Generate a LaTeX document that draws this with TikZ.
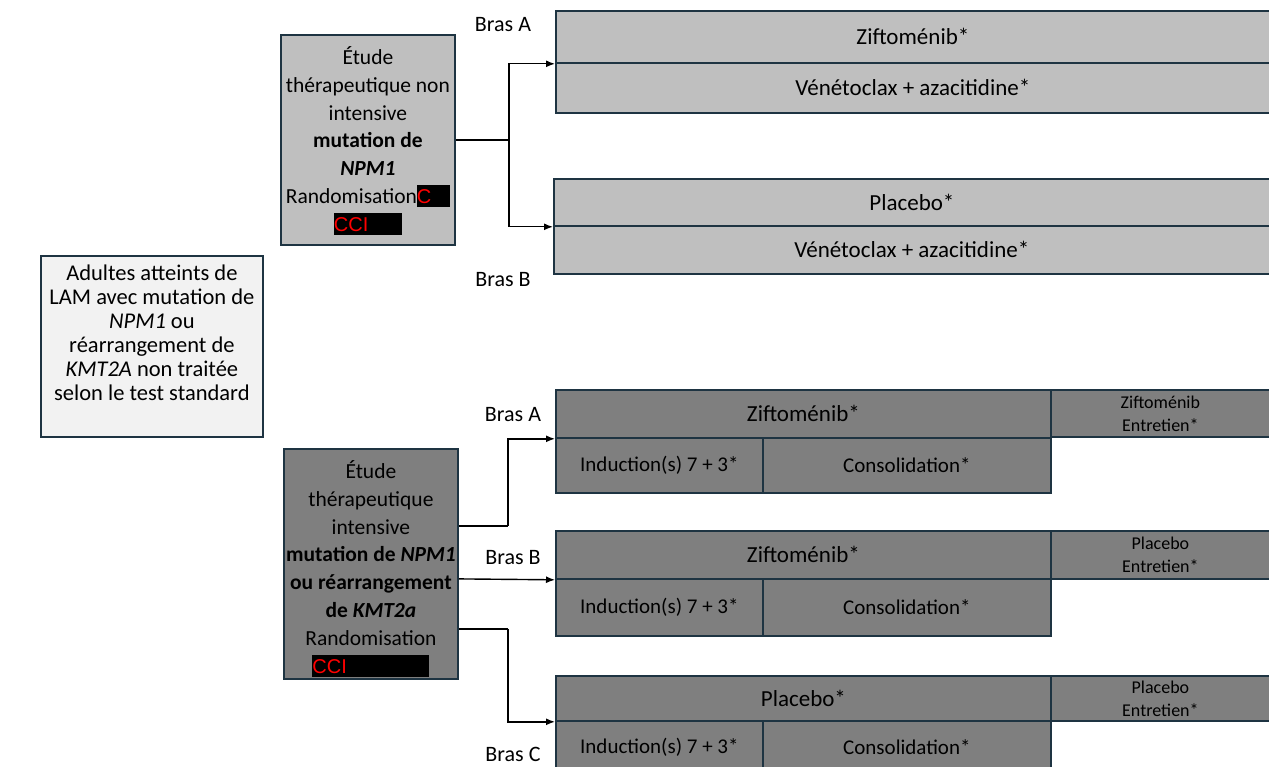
\documentclass[tikz,border=0pt]{standalone}
\usepackage{fontspec}
\setmainfont{Carlito}
\newfontfamily\arialfont{Liberation Sans}
\usetikzlibrary{arrows.meta}
\definecolor{bord}{HTML}{1E3442}
\definecolor{lgray}{HTML}{BFBFBF}
\definecolor{dgray}{HTML}{7F7F7F}
\definecolor{pale}{HTML}{F2F2F2}
\newcommand{\redact}[2]{{\setlength{\fboxsep}{0pt}\colorbox{black}{\makebox[#1][l]{\rule[-4pt]{0pt}{22pt}\color{red}\arialfont\fontsize{20}{22}\selectfont #2}}}}
\begin{document}
\begin{tikzpicture}[x=1pt,y=-1pt,
  box/.style={draw=bord, line width=1.8pt, inner sep=0pt, anchor=north west, align=center},
  txt/.style={font=\fontsize{23}{24}\selectfont},
  mid/.style={font=\fontsize{21}{24}\selectfont},
  small/.style={font=\fontsize{18}{23}\selectfont},
  lab/.style={font=\fontsize{22}{24}\selectfont, inner sep=0pt},
  stxt/.style={align=center, inner sep=0pt, font=\fontsize{21.5}{27.8}\selectfont},
  conn/.style={draw=black, line width=1.4pt, -{Latex[length=9pt,width=7pt]}},
  plain/.style={draw=black, line width=1.4pt}]
\useasboundingbox (0,0) rectangle (1269,767);
\clip (0,0) rectangle (1269,767);

% population box
\node[box, fill=pale, minimum width=222, minimum height=181] (pop) at (40,255) {};
\node[align=center, inner sep=0pt, font=\fontsize{22.5}{24}\selectfont] (poptxt) at ([yshift=14pt]pop.center)
 {Adultes atteints de\\LAM avec mutation de\\\textit{NPM1} ou\\réarrangement de\\\textit{KMT2A} non traitée\\selon le test standard};

% non intensive study
\node[box, fill=lgray, minimum width=174, minimum height=210] (s1) at (280,34) {};
\node[stxt] (s1txt) at ([yshift=-1pt]s1.center)
 {Étude\\thérapeutique non\\intensive\\\textbf{mutation de}\\\textbf{\textit{NPM1}}\\Randomisation\redact{33pt}{C}\\\redact{68pt}{CCI}};

% top arms
\node[box, fill=lgray, txt, minimum width=714, minimum height=52] (a1top) at (555,10) {Ziftoménib*};
\node[box, fill=lgray, txt, minimum width=714, minimum height=50] (a1bot) at (555,62) {Vénétoclax + azacitidine*};
\node[box, fill=lgray, txt, minimum width=716, minimum height=47] (b1top) at (553,178) {Placebo*};
\node[box, fill=lgray, txt, minimum width=716, minimum height=48] (b1bot) at (553,225) {Vénétoclax + azacitidine*};

\draw[plain] (s1.east) -- ++(53,0) coordinate (j1);
\draw[conn] (j1) |- (a1top.south west);
\draw[conn] (j1) |- (b1top.south west);
\node[lab] (la1) at (503,25) {Bras A};
\node[lab] (lb1) at (503,280) {Bras B};

% intensive study
\node[box, fill=dgray, minimum width=174, minimum height=230] (s2) at (283,448) {};
\node[stxt] (s2txt) at ([yshift=-5pt]s2.center)
 {Étude\\thérapeutique\\intensive\\\textbf{mutation de \textit{NPM1}}\\\textbf{ou réarrangement}\\\textbf{de \textit{KMT2a}}\\Randomisation\\\redact{117pt}{CCI}};

% bottom arm A
\node[box, fill=dgray, txt, minimum width=495, minimum height=48] (a2top) at (555,389) {Ziftoménib*};
\node[box, fill=dgray, small, minimum width=219, minimum height=47] (a2m) at (1050,389) {Ziftoménib\\Entretien*};
\node[box, fill=dgray, mid, minimum width=207, minimum height=55] (a2i) at (555,437) {Induction(s) 7 + 3*};
\node[box, fill=dgray, mid, minimum width=288, minimum height=55] (a2c) at (762,437) {Consolidation*};

% bottom arm B
\node[box, fill=dgray, txt, minimum width=495, minimum height=48] (b2top) at (555,530) {Ziftoménib*};
\node[box, fill=dgray, small, minimum width=219, minimum height=48] (b2m) at (1050,530) {Placebo\\Entretien*};
\node[box, fill=dgray, mid, minimum width=207, minimum height=57] (b2i) at (555,578) {Induction(s) 7 + 3*};
\node[box, fill=dgray, mid, minimum width=288, minimum height=57] (b2c) at (762,578) {Consolidation*};

% bottom arm C
\node[box, fill=dgray, txt, minimum width=495, minimum height=45] (c2top) at (555,675) {Placebo*};
\node[box, fill=dgray, small, minimum width=219, minimum height=45] (c2m) at (1050,675) {Placebo\\Entretien*};
\node[box, fill=dgray, mid, minimum width=207, minimum height=52] (c2i) at (555,720) {Induction(s) 7 + 3*};
\node[box, fill=dgray, mid, minimum width=288, minimum height=52] (c2c) at (762,720) {Consolidation*};

\draw[plain] ([yshift=38pt]s2.east) -- ++(49,0) coordinate (j2);
\draw[conn] (j2) |- (a2top.south west);
\draw[conn] ([yshift=-15pt]s2.east) -- (b2top.south west);
\draw[plain] ([yshift=-65pt]s2.east) -- ++(49,0) coordinate (j3);
\draw[conn] (j3) |- (c2top.south west);

\node[lab] (la2) at (513,415) {Bras A};
\node[lab] (lb2) at (513,558) {Bras B};
\node[lab] (lc2) at (513,754) {Bras C};
\end{tikzpicture}
\end{document}
